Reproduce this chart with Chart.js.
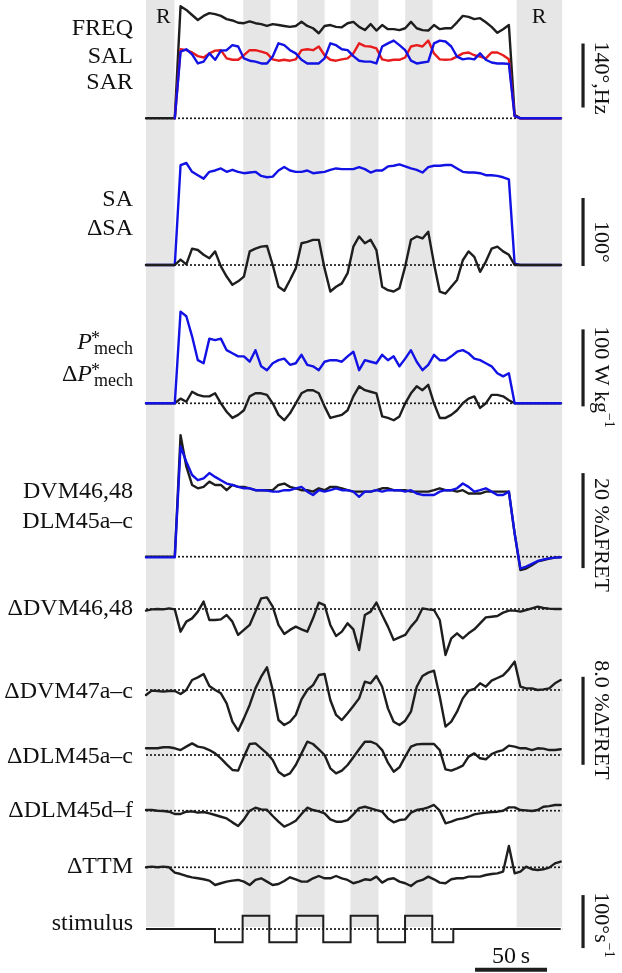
<!DOCTYPE html>
<html>
<head>
<meta charset="utf-8">
<title>Flight traces</title>
<script src="https://cdn.jsdelivr.net/npm/chart.js@4.4.1/dist/chart.umd.min.js"></script>
<style>
  html, body { margin: 0; padding: 0; background: #fff; }
  #wrap { width: 622px; height: 973px; }
</style>
</head>
<body>
<div id="wrap"><canvas id="myChart" width="622" height="973"></canvas></div>
<script>
// time (s) shared by all recorded traces
var times = [0,4,8,12,16,20,24,28,32,36,40,44,48,52,56,60,64,68,72,76,80,84,88,92,96,100,104,108,112,116,120,124,128,132,136,140,144,148,152,156,160,164,168,172,176,180,184,188,192,196,200,204,208,212,216,220,224,228,232,236,240,244,248,252,256,260,264,268,272,276,280,284,288];

// wingbeat frequency (Hz) and left/right stroke amplitude (deg)
var freq = [0,0,0,0,0,0,245,237,226,215,224,230,228,224,217,214,209,208,212,208,206,202,206,204,202,200,202,211,202,197,186,202,204,200,199,208,211,200,193,206,192,204,195,195,193,197,211,197,193,192,204,195,197,197,210,224,222,217,219,210,200,187,195,204,8,0,0,0,0,0,0,0,0];
var sal = [null,null,null,null,null,0,151,149,144,136,133,142,148,149,131,128,128,138,149,149,146,142,129,126,128,126,129,149,151,149,157,138,128,126,129,131,142,164,158,157,153,129,126,128,128,133,157,160,157,170,142,129,128,129,135,142,144,138,135,131,144,144,138,129,5,0,0,0,0,0,0,0,0];
var sar = [null,null,null,null,null,0,146,151,140,120,124,142,128,148,149,160,157,131,126,124,120,120,135,164,160,149,142,128,120,120,120,131,164,160,151,149,136,126,124,124,120,157,164,170,160,149,126,120,122,124,164,170,168,157,135,129,131,129,142,128,122,120,120,119,5,0,0,0,0,0,0,0,0];

// mean stroke amplitude and L-R difference (deg)
var sa = [0,0,0,0,0,0,147,150,137,132,127,137,139,142,137,140,137,135,136,137,131,129,130,139,144,139,137,137,139,135,136,137,140,142,141,141,141,144,141,136,139,139,145,146,148,145,142,140,136,144,146,146,147,147,142,137,136,136,135,132,132,131,129,126,2,0,0,0,0,0,0,0,0];
var dsa = [0,0,0,0,0,0,8,1,24,22,15,10,20,-2,-17,-29,-24,-17,20,24,27,28,0,-32,-38,-22,-5,32,34,37,37,-5,-39,-32,-27,-12,27,42,32,37,22,-32,-37,-39,-34,-2,37,42,39,49,2,-39,-42,-32,-22,7,20,12,-10,5,24,27,20,15,0,0,0,0,0,0,0,0,0];

// mechanical power (W/kg)
var pmech = [0,0,0,0,0,0,119,113,87,56,52,84,82,84,69,65,61,61,54,69,48,43,52,56,58,50,52,63,50,48,43,54,56,56,54,61,67,43,56,54,52,63,56,61,48,58,69,54,43,50,63,56,56,61,67,69,65,58,56,52,48,39,35,39,0,0,0,0,0,0,0,0,0];
var dpmech = [0,0,0,0,0,0,6,2,15,11,9,9,13,0,-11,-19,-15,-9,9,13,13,11,0,-15,-22,-13,0,13,17,17,13,-4,-19,-17,-15,-9,9,22,17,15,13,-17,-19,-22,-17,0,13,22,17,24,0,-19,-19,-15,-9,0,6,9,-6,0,11,11,9,4,0,0,0,0,0,0,0,0,0];

// muscle calcium (%dFRET)
var dvm4648 = [0,0,0,0,0,0,25.6,19,15.1,14.4,14.7,15.8,15.1,15.1,14.0,15.1,14.7,14.7,14.4,14.0,14.0,14.0,14.0,15.1,15.4,14.7,14.4,14.0,14.0,13.7,14.4,14.0,14.7,14.7,14.4,14.0,13.7,13.7,13.7,13.7,14.0,14.4,14.4,14.0,14.0,14.0,13.7,13.7,13.7,13.7,14.0,14.4,14.0,14.0,13.7,14.0,13.3,13.3,13.3,13.7,13.7,13.7,13.7,13.7,4.9,-2.8,-2.5,-1.8,-1.0,-0.7,-0.4,-0.2,-0.1];
var dlm45ac = [-0.15,-0.15,-0.15,-0.15,-0.15,-0.15,23.2,20,17.2,16.1,16.5,17.6,16.8,16.1,15.4,15.1,14.7,14.4,14.4,14.0,14.0,13.9,13.7,13.7,14.0,14.0,14.4,14.7,13.7,13.0,14.0,13.7,14.0,14.4,14.0,14.0,13.7,12.6,13.7,13.7,14.0,13.7,14.0,14.0,14.0,13.7,14.0,13.3,13.0,13.0,13.0,13.7,14.0,14.0,14.4,15.4,14.7,13.7,14.0,14.4,13.7,13.0,13.0,13.7,4.9,-2.5,-2.1,-1.5,-0.9,-0.6,-0.35,-0.2,-0.15];

// L-R differences (%dFRET)
var dDvm4648 = [-0.15,-0.03,0,-0.03,0.06,-0.03,-2.06,-1.15,-0.85,-0.24,0.67,-1.0,-1.0,-0.94,-0.55,-1.15,-2.36,-1.9,-1.45,-0.24,0.97,1.06,0.21,-1.45,-2.27,-1.9,-1.6,-1.85,-2.06,-0.85,0.58,0.36,-1.45,-2.45,-2.06,-1.3,-1.85,-3.73,-0.55,-0.24,0.58,-0.55,-1.6,-2.82,-2.58,-2.36,-1.6,-1.0,0.06,-0.03,-0.09,-1.0,-4.18,-2.67,-2.21,-2.67,-2.21,-1.85,-1.3,-0.76,-0.7,-0.64,-0.33,-0.15,-0.15,-0.24,-0.09,0.06,0.21,0.09,0.03,0,0];
var dDvm47 = [-0.45,-0.06,-0.09,-0.15,-0.09,-0.09,-0.36,0,0.91,1.15,1.45,0.36,0,-0.3,-1.21,-2.88,-3.7,-2.58,-1.36,0.15,1.21,2.06,0,-2.73,-3.18,-2.88,-2.27,-0.85,0,0.45,1.36,1.45,-0.91,-2.27,-2.73,-2.12,-1.45,-0.76,0.76,0.61,1.27,0.3,-1.67,-2.88,-3.18,-2.79,-1.97,0.3,1.27,1.58,1.76,-0.61,-3.33,-2.88,-1.97,-0.76,-0.06,0.09,0.61,0.3,0.85,1.09,1.33,1.88,2.58,0.3,0.15,0.15,0,0.06,0.15,0.61,0.91];
var dDlm45ac = [0.61,0.61,0.61,0.7,0.7,0.61,0.45,0.76,1.06,0.76,0.67,0.45,0.15,-0.3,-0.85,-1.36,-1.42,-0.15,1.0,1.06,0.61,0.15,-0.45,-1.52,-1.91,-1.67,-0.91,0.15,1.21,1.0,0.52,0,-1.21,-1.67,-1.42,-0.91,-0.21,0.52,1.21,1.21,1.0,0.45,-0.7,-1.52,-1.12,-0.15,0.76,0.97,1.0,1.0,1.0,0.45,-1.3,-1.42,-1.21,-0.97,-0.15,0.15,-0.3,-0.39,0.09,0.3,0.45,0.85,0.76,0.61,0.61,0.45,0.61,0.58,0.45,0.45,0.52];
var dDlm45df = [0.06,0.06,0,-0.03,-0.09,-0.3,-0.3,-0.09,-0.06,-0.18,-0.12,-0.24,-0.39,-0.55,-0.7,-1.06,-1.39,-0.79,0,0.27,0.12,0.09,-0.48,-1.0,-1.45,-1.21,-0.91,-0.3,0.27,0.06,-0.06,-0.24,-0.79,-1.0,-1.0,-0.85,-0.33,0.24,0.36,0.21,0.06,-0.09,-0.7,-1.06,-0.85,-0.79,-0.18,0.06,0.15,0.3,0.52,0,-1.15,-1.0,-0.79,-0.7,-0.55,-0.33,-0.24,-0.18,-0.12,-0.09,0,0.3,0.3,0.06,0.03,-0.03,0.06,0.36,0.42,0.52,0.52];
var dTtm = [0,0.06,0,0.06,0,-0.48,-0.61,-0.79,-0.91,-1.0,-1.09,-1.21,-1.61,-1.45,-1.3,-1.21,-1.15,-1.3,-1.61,-1.15,-1.0,-1.3,-1.61,-1.52,-1.24,-0.91,-1.09,-1.3,-1.3,-1.0,-0.79,-1.0,-1.0,-0.79,-1.0,-1.15,-1.45,-1.3,-1.09,-1.15,-0.85,-1.39,-1.09,-1.0,-1.3,-1.45,-1.7,-1.3,-1.15,-0.85,-1.09,-1.39,-1.45,-1.09,-1.0,-1.0,-0.85,-0.85,-0.85,-0.7,-0.61,-0.55,-0.39,1.94,-0.55,-0.39,0.06,-0.18,-0.24,-0.18,-0.03,0.36,0.52];

// visual stimulus (deg/s), value holds until next switch time
var stimTimes = [0,47.9,67.1,85.6,104.6,123.1,142.1,160.9,179.9,198.8,213.4,288];
var stimValues = [0,-25,25,-25,25,-25,25,-25,25,-25,0,0];

// shaded periods: rest (R) and stimulus on
var bandStart = [0,67.5,105,142,180,257.4];
var bandEnd = [19.8,86.5,124,161.5,199,289];
var traceEnd = 289;

// layout: baseline pixel and pixels per unit for each panel
var W = 622, H = 973, X0 = 146, PX_PER_S = 1.44;
var panels = [
  {id:'yFly', base:118.3, k:64/140},
  {id:'ySA', base:265, k:0.68},
  {id:'yPow', base:403.3, k:0.77},
  {id:'yFret', base:556.7, k:4.75},
  {id:'yD46', base:609, k:11},
  {id:'yD47', base:690, k:11},
  {id:'yDa', base:755, k:11},
  {id:'yDd', base:810.7, k:11},
  {id:'yTtm', base:867.3, k:11},
  {id:'yStim', base:929, k:0.53}
];

var BLACK = '#1e1e1e', BLUE = 'rgb(18,18,228)', RED = 'rgb(232,28,28)';
var SERIF = "'Liberation Serif', 'DejaVu Serif', serif";

function pts(xs, ys) {
  return xs.map(function(t, i) { return {x: t, y: ys[i]}; });
}

function trace(values, axis, color, order) {
  return {data: pts(times, values), yAxisID: axis, borderColor: color, borderWidth: 2.4,
          pointRadius: 0, tension: 0, fill: false, order: order,
          borderJoinStyle: 'round', borderCapStyle: 'round'};
}

var datasets = [];

// dotted zero lines
panels.forEach(function(p) {
  datasets.push({data: pts([0, traceEnd], [0, 0]), yAxisID: p.id, borderColor: BLACK,
                 borderWidth: 1.7, borderDash: [2, 2], pointRadius: 0, order: 50});
});

datasets.push(trace(freq, 'yFly', BLACK, 12));
datasets.push(trace(sal, 'yFly', RED, 11));
datasets.push(trace(sar, 'yFly', BLUE, 10));
datasets.push(trace(sa, 'ySA', BLUE, 11));
datasets.push(trace(dsa, 'ySA', BLACK, 10));
datasets.push(trace(dpmech, 'yPow', BLACK, 11));
datasets.push(trace(pmech, 'yPow', BLUE, 10));
datasets.push(trace(dvm4648, 'yFret', BLACK, 11));
datasets.push(trace(dlm45ac, 'yFret', BLUE, 10));
datasets.push(trace(dDvm4648, 'yD46', BLACK, 10));
datasets.push(trace(dDvm47, 'yD47', BLACK, 10));
datasets.push(trace(dDlm45ac, 'yDa', BLACK, 10));
datasets.push(trace(dDlm45df, 'yDd', BLACK, 10));
datasets.push(trace(dTtm, 'yTtm', BLACK, 10));
datasets.push({data: pts(stimTimes, stimValues), yAxisID: 'yStim', borderColor: BLACK,
               borderWidth: 2, stepped: true, pointRadius: 0, order: 10});

// scale bars (drawn on each panel's own axis)
var BAR_T = 303.5;
var scaleBars = [
  {axis:'yFly', from:23.6, size:140},
  {axis:'ySA', from:-1.5, size:100},
  {axis:'yPow', from:-4, size:100},
  {axis:'yFret', from:-2.4, size:20},
  {axis:'yD47', from:-6.8, size:8},
  {axis:'yStim', from:-36, size:100}
];
scaleBars.forEach(function(b) {
  datasets.push({data: pts([BAR_T, BAR_T], [b.from, b.from + b.size]), yAxisID: b.axis,
                 borderColor: BLACK, borderWidth: 3.2, borderCapStyle: 'butt', pointRadius: 0, order: 5});
});
datasets.push({data: pts([228.5, 278.5], [-77, -77]), yAxisID: 'yStim',
               borderColor: BLACK, borderWidth: 4, borderCapStyle: 'butt', pointRadius: 0, order: 5});

var scales = {
  x: {type: 'linear', display: false, min: -X0 / PX_PER_S, max: (W - X0) / PX_PER_S}
};
panels.forEach(function(p) {
  scales[p.id] = {type: 'linear', display: false, min: (p.base - H) / p.k, max: p.base / p.k};
});

function drawParts(ctx, parts, x, y, align) {
  var w = 0;
  parts.forEach(function(p) { ctx.font = p.font; p.w = ctx.measureText(p.t).width; w += p.w; });
  var cx = align === 'right' ? x - w : (align === 'center' ? x - w / 2 : x);
  ctx.textAlign = 'left';
  parts.forEach(function(p) { ctx.font = p.font; ctx.fillText(p.t, cx, y + (p.dy || 0)); cx += p.w; });
}

var F = '24px ' + SERIF, FR = '22px ' + SERIF, FS = '14px ' + SERIF;
var leftLabels = [
  ['FREQ', 35], ['SAL', 63], ['SAR', 89], ['SA', 206], ['\u0394SA', 235],
  ['DVM46,48', 498], ['DLM45a\u2013c', 528], ['\u0394DVM46,48', 615], ['\u0394DVM47a\u2013c', 698],
  ['\u0394DLM45a\u2013c', 763], ['\u0394DLM45d\u2013f', 817], ['\u0394TTM', 873], ['stimulus', 930]
];
var sideLabels = [
  {y: 78, parts: [{t: '140\u00b0,Hz', font: FR}]},
  {y: 242, parts: [{t: '100\u00b0', font: FR}]},
  {y: 377, parts: [{t: '100 W kg', font: FR}, {t: '\u22121', font: FS, dy: -8}]},
  {y: 535, parts: [{t: '20 %\u0394FRET', font: FR}]},
  {y: 720, parts: [{t: '8.0 %\u0394FRET', font: FR}]},
  {y: 925, parts: [{t: '100\u00b0s', font: FR}, {t: '\u22121', font: FS, dy: -8}]}
];

var figurePlugin = {
  id: 'figure',
  beforeDatasetsDraw: function(chart) {
    var c = chart.ctx, xs = chart.scales.x;
    var bottom = chart.scales.yStim.getPixelForValue(0) - 2;
    c.save();
    c.fillStyle = '#e6e6e6';
    for (var i = 0; i < bandStart.length; i++) {
      var a = xs.getPixelForValue(bandStart[i]), b = xs.getPixelForValue(bandEnd[i]);
      c.fillRect(a, 0, b - a, bottom);
    }
    c.restore();
  },
  afterDatasetsDraw: function(chart) {
    var c = chart.ctx, xs = chart.scales.x;
    c.save();
    c.fillStyle = '#111';
    c.textBaseline = 'alphabetic';
    leftLabels.forEach(function(l) { drawParts(c, [{t: l[0], font: F}], 133, l[1], 'right'); });

    // P*mech and dP*mech
    [[349, ''], [381, '\u0394']].forEach(function(r) {
      c.font = '18px ' + SERIF;
      var wm = c.measureText('mech').width, left = 133 - wm;
      c.textAlign = 'left';
      c.fillText('mech', left, r[0] + 5);
      c.fillText('*', left - 3, r[0] - 5);
      c.font = 'italic 24px ' + SERIF;
      var wp = c.measureText('P').width;
      c.fillText('P', left - 2 - wp, r[0]);
      if (r[1]) { c.font = F; c.textAlign = 'right'; c.fillText(r[1], left - 2 - wp, r[0]); }
    });

    c.font = FR;
    c.textAlign = 'center';
    c.fillText('R', xs.getPixelForValue(12), 23);
    c.fillText('R', xs.getPixelForValue(273), 23);
    c.font = F;
    c.fillText('50\u2009s', xs.getPixelForValue(253.5), 963);

    sideLabels.forEach(function(s) {
      c.save();
      c.translate(601, s.y);
      c.rotate(Math.PI / 2);
      c.textBaseline = 'middle';
      drawParts(c, s.parts, 0, 0, 'center');
      c.restore();
    });
    c.restore();
  }
};

var myChart = new Chart(document.getElementById('myChart').getContext('2d'), {
  type: 'line',
  data: {datasets: datasets},
  options: {
    responsive: false,
    animation: false,
    events: [],
    layout: {padding: 0},
    plugins: {legend: {display: false}, tooltip: {enabled: false}},
    scales: scales
  },
  plugins: [figurePlugin]
});
</script>
</body>
</html>
